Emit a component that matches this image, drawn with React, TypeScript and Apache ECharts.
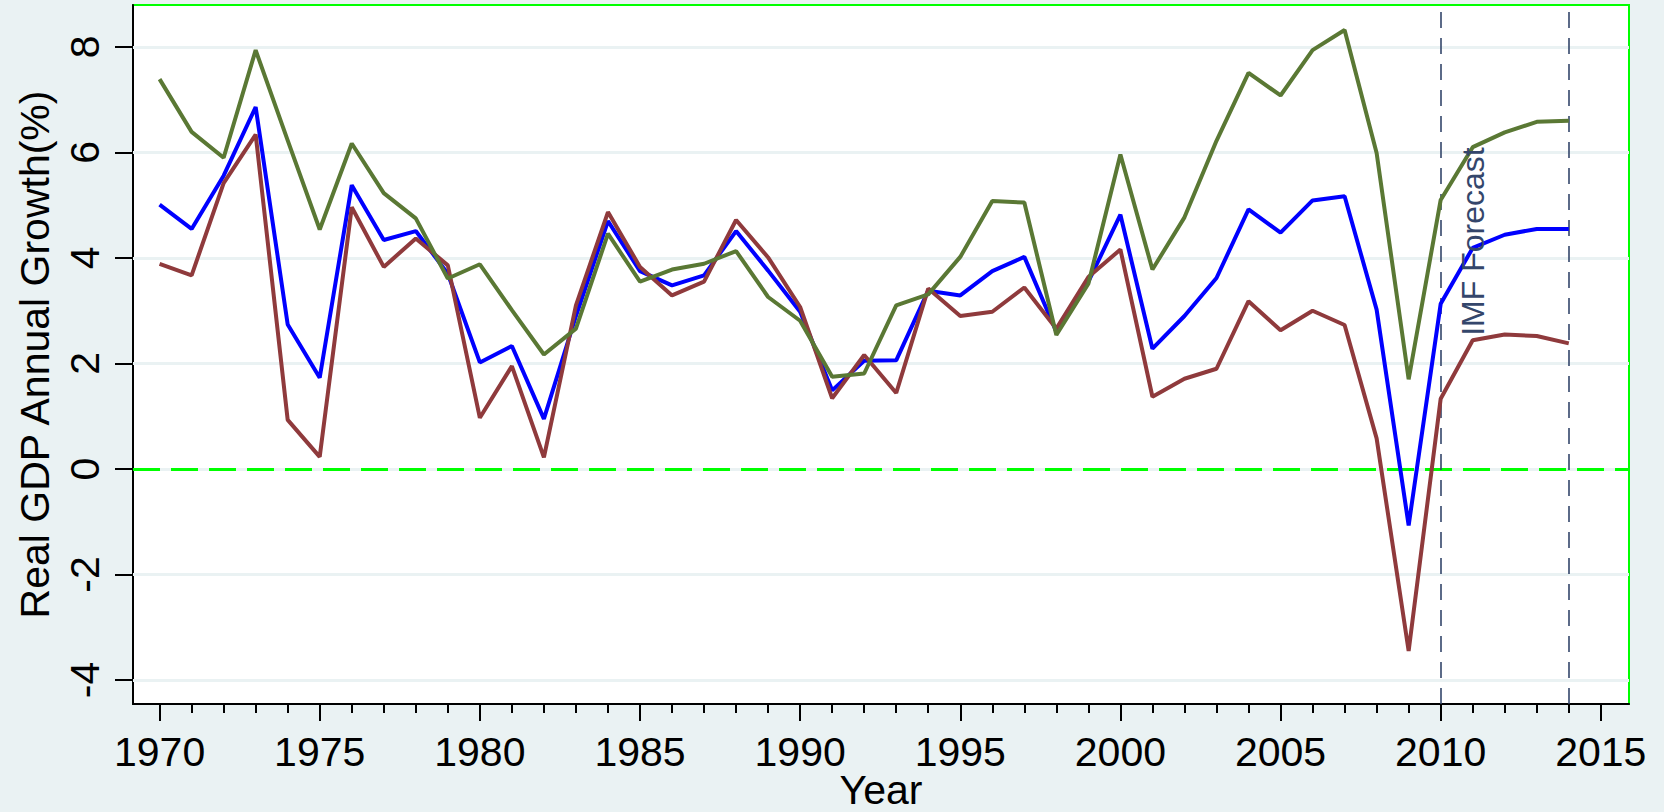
import React, { useEffect, useRef } from "react";
import * as echarts from "echarts";

const years = [
  1970, 1971, 1972, 1973, 1974, 1975, 1976, 1977, 1978, 1979,
  1980, 1981, 1982, 1983, 1984, 1985, 1986, 1987, 1988, 1989,
  1990, 1991, 1992, 1993, 1994, 1995, 1996, 1997, 1998, 1999,
  2000, 2001, 2002, 2003, 2004, 2005, 2006, 2007, 2008, 2009,
  2010, 2011, 2012, 2013, 2014,
];

// blue
const worldGrowth = [
  5.01, 4.55, 5.56, 6.86, 2.74, 1.73, 5.38, 4.34, 4.51, 3.7,
  2.02, 2.33, 0.95, 2.9, 4.7, 3.75, 3.48, 3.67, 4.51, 3.76,
  2.98, 1.49, 2.05, 2.06, 3.38, 3.29, 3.75, 4.02, 2.6, 3.55,
  4.82, 2.28, 2.9, 3.62, 4.92, 4.48, 5.09, 5.17, 3.02, -1.07,
  3.13, 4.19, 4.44, 4.55, 4.55,
];

// green
const emergingGrowth = [
  7.39, 6.39, 5.9, 7.94, 6.23, 4.54, 6.17, 5.23, 4.75, 3.61,
  3.88, 3.01, 2.17, 2.66, 4.46, 3.55, 3.78, 3.89, 4.13, 3.26,
  2.81, 1.75, 1.81, 3.1, 3.31, 4.02, 5.08, 5.05, 2.54, 3.51,
  5.96, 3.78, 4.77, 6.22, 7.51, 7.08, 7.94, 8.32, 5.99, 1.7,
  5.1, 6.1, 6.38, 6.58, 6.6,
];

// red
const advancedGrowth = [
  3.89, 3.67, 5.42, 6.34, 0.93, 0.23, 4.96, 3.83, 4.37, 3.86,
  0.97, 1.95, 0.22, 3.1, 4.87, 3.83, 3.29, 3.55, 4.72, 4.01,
  3.07, 1.34, 2.16, 1.44, 3.42, 2.9, 2.98, 3.44, 2.66, 3.64,
  4.16, 1.37, 1.71, 1.9, 3.18, 2.63, 3.0, 2.73, 0.58, -3.45,
  1.33, 2.44, 2.55, 2.52, 2.38,
];

const yTicks = [-4, -2, 0, 2, 4, 6, 8];
const xMajorTicks = [1970, 1975, 1980, 1985, 1990, 1995, 2000, 2005, 2010, 2015];
const forecastYears = [2010, 2014];
const forecastLabel = "IMF Forecast";
const yTitle = "Real GDP Annual Growth(%)";
const xTitle = "Year";

const FONT = "Liberation Sans, Arial, Helvetica, sans-serif";
const BG = "#eaf2f3";
const X_MIN = 1969.17;
const X_MAX = 2015.88;
const Y_MIN = -4.455;
const Y_MAX = 8.795;

export default function App() {
  const ref = useRef<HTMLDivElement>(null);

  useEffect(() => {
    if (!ref.current) return;
    const chart = echarts.init(ref.current, null, { renderer: "svg" });

    const pairs = (vals: number[]) => years.map((y, i) => [y, vals[i]]);
    const minorTicks = years.filter((y) => y % 5 !== 0);

    const gridLines = yTicks.map((v) => ({ yAxis: v }));
    const zeroLine = {
      yAxis: 0,
      lineStyle: { color: "#00ff00", width: 3, type: [27, 11] },
    };
    const forecastLines = forecastYears.map((y) => ({
      xAxis: y,
      lineStyle: { color: "#34466b", width: 1.6, type: [16, 10] },
    }));

    const option: any = {
      animation: false,
      backgroundColor: BG,
      textStyle: { fontFamily: FONT },
      grid: {
        left: 133,
        right: 35,
        top: 5,
        bottom: 108,
        containLabel: false,
        outerBoundsMode: "none",
        show: true,
        backgroundColor: "#ffffff",
        borderColor: "#00ff00",
        borderWidth: 2,
      },
      xAxis: [
        {
          type: "value",
          min: X_MIN,
          max: X_MAX,
          position: "bottom",
          name: xTitle,
          nameLocation: "middle",
          nameGap: 65,
          nameMoveOverlap: false,
          nameTextStyle: { fontSize: 41, color: "#000", fontFamily: FONT },
          axisLine: { show: true, onZero: false, lineStyle: { color: "#000", width: 2 } },
          axisTick: {
            show: true,
            length: 17,
            lineStyle: { color: "#000", width: 2 },
            customValues: xMajorTicks,
          },
          axisLabel: {
            show: true,
            customValues: xMajorTicks,
            fontSize: 41,
            color: "#000",
            margin: 27,
            fontFamily: FONT,
            formatter: (v: number) => String(v),
          },
          splitLine: { show: false },
        },
        {
          type: "value",
          min: X_MIN,
          max: X_MAX,
          position: "bottom",
          axisLine: { show: false, onZero: false },
          axisTick: {
            show: true,
            length: 9,
            lineStyle: { color: "#000", width: 2 },
            customValues: minorTicks,
          },
          axisLabel: { show: false },
          splitLine: { show: false },
        },
      ],
      yAxis: {
        type: "value",
        min: Y_MIN,
        max: Y_MAX,
        name: yTitle,
        nameLocation: "middle",
        nameRotate: 90,
        nameGap: 78,
        nameMoveOverlap: false,
        nameTextStyle: { fontSize: 41, color: "#000", fontFamily: FONT },
        axisLine: { show: true, onZero: false, lineStyle: { color: "#000", width: 2 } },
        axisTick: {
          show: true,
          length: 18,
          lineStyle: { color: "#000", width: 2 },
          customValues: yTicks,
        },
        axisLabel: {
          show: true,
          customValues: yTicks,
          rotate: 90,
          fontSize: 41,
          color: "#000",
          margin: 28,
          fontFamily: FONT,
          formatter: (v: number) => String(v),
        },
        splitLine: { show: false },
      },
      series: [
        {
          name: "World",
          type: "line",
          xAxisIndex: 0,
          data: pairs(worldGrowth),
          showSymbol: false,
          symbol: "none",
          lineStyle: { color: "#0000ff", width: 4 },
          itemStyle: { color: "#0000ff" },
          z: 3,
          markLine: {
            silent: true,
            symbol: "none",
            z: 1,
            label: { show: false },
            lineStyle: { color: BG, width: 3, type: "solid" },
            data: [...gridLines, zeroLine, ...forecastLines],
          },
        },
        {
          name: "Advanced economies",
          type: "line",
          xAxisIndex: 0,
          data: pairs(advancedGrowth),
          showSymbol: false,
          symbol: "none",
          lineStyle: { color: "#8f3a3c", width: 4 },
          itemStyle: { color: "#8f3a3c" },
          z: 3,
        },
        {
          name: "Emerging and developing economies",
          type: "line",
          xAxisIndex: 0,
          data: pairs(emergingGrowth),
          showSymbol: false,
          symbol: "none",
          lineStyle: { color: "#5a7834", width: 4 },
          itemStyle: { color: "#5a7834" },
          z: 3,
        },
      ],
    };

    chart.setOption(option);
    const p = chart.convertToPixel({ xAxisIndex: 0, yAxisIndex: 0 }, [2011.0, 4.31]) as number[];
    chart.setOption({
      graphic: [
        {
          type: "text",
          x: p[0],
          y: p[1],
          rotation: Math.PI / 2,
          z: 10,
          style: {
            text: forecastLabel,
            fill: "#34466b",
            font: `32px ${FONT}`,
            align: "center",
            verticalAlign: "middle",
          },
        },
      ],
    });

    return () => chart.dispose();
  }, []);

  return (
    <div
      ref={ref}
      style={{ position: "absolute", left: 0, top: 0, width: 1664, height: 812, background: BG }}
    />
  );
}
